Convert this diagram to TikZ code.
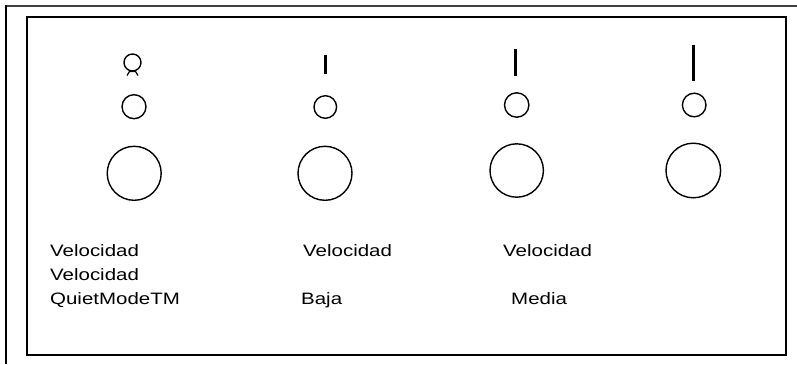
\documentclass[tikz,border=0pt]{standalone}
\usepackage{fontspec}
\setmainfont{Liberation Sans}[FakeStretch=1.24]
\begin{document}
\begin{tikzpicture}[x=1pt,y=-1pt,
  frame/.style={line width=2pt},
  ring/.style={line width=1.4pt},
  bar/.style={line width=3pt},
  lbl/.style={anchor=base west,inner sep=0pt,font=\fontsize{16.5}{20}\selectfont}]
\useasboundingbox (0,0) rectangle (797,364);
\fill[white] (0,0) rectangle (797,364);
% outer frame (cut off at right and bottom)
\draw[frame,black!75] (797,5.5) -- (5,5.5);
\draw[frame] (6,4.5) -- (6,364);
% inner frame
\draw[frame] (27,17) rectangle (785.5,355.3);
% column 1
\draw[ring] (132.5,62.5) circle[radius=8.5];
\draw[line width=1.2pt] (127,75.5) -- (129.5,71.5) -- (135.5,71.5) -- (138,75.5);
\draw[ring] (134,106.7) circle[radius=12];
\draw[ring] (134.2,173.3) circle[radius=27];
% column 2
\draw[bar] (325,55) -- (325,74.3);
\draw[ring] (325.3,107) circle[radius=11.3];
\draw[ring] (325,173.3) circle[radius=27];
% column 3
\draw[bar] (515.7,49.3) -- (515.7,76);
\draw[ring] (516.7,105) circle[radius=12.2];
\draw[ring] (516.7,170.5) circle[radius=26.7];
% column 4
\draw[bar] (693.3,45) -- (693.3,80.7);
\draw[ring] (694.2,105) circle[radius=11.8];
\draw[ring] (693.3,170.5) circle[radius=27.3];
% labels
\node[lbl] (c1a) at (50,256) {Velocidad};
\node[lbl] (c1b) at (50,280) {Velocidad};
\node[lbl] (c1c) at (50,304) {QuietModeTM};
\node[lbl] (c2a) at (303,256) {Velocidad};
\node[lbl] (c2b) at (301,304) {Baja};
\node[lbl] (c3a) at (503,256) {Velocidad};
\node[lbl] (c3b) at (511,304) {Media};
\end{tikzpicture}
\end{document}
